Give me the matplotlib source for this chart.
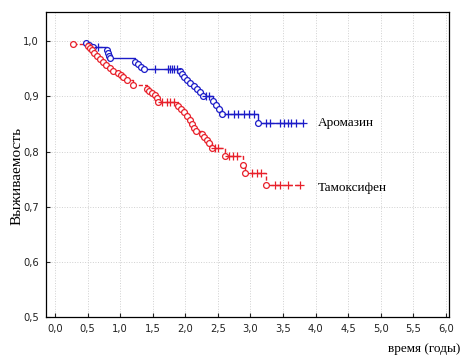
import numpy as np
import matplotlib
matplotlib.use("Agg")
import matplotlib.pyplot as plt

# Аромазин: события (время, выживаемость после события) и цензурированные
arom_t = [0.48, 0.52, 0.58, 0.80, 0.81, 0.83, 0.85, 1.23, 1.27, 1.32, 1.37,
          1.92, 1.95, 1.98, 2.03, 2.07, 2.13, 2.18, 2.22, 2.27,
          2.42, 2.47, 2.52, 2.56, 3.11]
arom_s = [0.996, 0.993, 0.989, 0.984, 0.979, 0.974, 0.969, 0.963, 0.958, 0.953, 0.949,
          0.946, 0.940, 0.935, 0.929, 0.924, 0.918, 0.913, 0.908, 0.900,
          0.891, 0.884, 0.877, 0.868, 0.851]
arom_c = [0.66, 1.53, 1.73, 1.76, 1.79, 1.82, 1.87, 2.32, 2.36,
          2.65, 2.75, 2.81, 2.90, 2.98, 3.05,
          3.24, 3.30, 3.45, 3.51, 3.57, 3.63, 3.70, 3.80]

# Тамоксифен
tam_t = [0.28, 0.51, 0.54, 0.57, 0.60, 0.64, 0.69, 0.74, 0.78, 0.84, 0.89,
         0.97, 1.01, 1.04, 1.10, 1.20, 1.41, 1.44, 1.49, 1.53, 1.56, 1.58,
         1.89, 1.93, 1.98, 2.03, 2.07, 2.10, 2.13, 2.16, 2.26, 2.29, 2.33, 2.36, 2.41,
         2.61, 2.88, 2.91, 3.24]
tam_s = [0.995, 0.991, 0.987, 0.984, 0.978, 0.973, 0.967, 0.962, 0.957, 0.951, 0.946,
         0.942, 0.938, 0.935, 0.929, 0.920, 0.913, 0.909, 0.906, 0.902, 0.897, 0.889,
         0.882, 0.877, 0.871, 0.864, 0.857, 0.850, 0.842, 0.837, 0.832, 0.826, 0.821, 0.815, 0.806,
         0.792, 0.775, 0.761, 0.739]
tam_c = [1.64, 1.72, 1.76, 1.83, 2.45, 2.50, 2.67, 2.73, 2.79,
         3.02, 3.10, 3.17, 3.37, 3.45, 3.57, 3.76]

x_ticks = np.arange(0, 6.01, 0.5)
y_ticks = np.arange(0.5, 1.01, 0.1)


def surv_at(t_ev, s_ev, times):
    idx = np.searchsorted(t_ev, times, side="right") - 1
    return np.array(s_ev)[idx]


def draw_curve(ax, t_ev, s_ev, t_c, color, ls):
    t_end = max(t_c[-1], t_ev[-1])
    ax.plot(list(t_ev) + [t_end], list(s_ev) + [s_ev[-1]], drawstyle="steps-post",
            color=color, lw=1.0, linestyle=ls)
    ax.plot(t_ev, s_ev, "o", mfc="white", mec=color, ms=4.2, mew=0.9, zorder=3)
    ax.plot(t_c, surv_at(t_ev, s_ev, t_c), "+", color=color, ms=5.5, mew=0.9, zorder=3)


fig = plt.figure(figsize=(4.62, 3.59), dpi=100)
ax = fig.add_axes([46 / 462, 42 / 359, 403 / 462, 305 / 359])

blue = "#1c1cc8"
red = "#e8202a"
draw_curve(ax, arom_t, arom_s, arom_c, blue, "-")
draw_curve(ax, tam_t, tam_s, tam_c, red, (0, (3, 1.5)))

ax.set_xlim(-0.14, 6.05)
ax.set_ylim(0.5, 1.053)
ax.set_xticks(x_ticks)
ax.set_yticks(y_ticks)
ax.set_xticklabels([f"{v:.1f}".replace(".", ",") for v in x_ticks])
ax.set_yticklabels([f"{v:.1f}".replace(".", ",") for v in y_ticks])
ax.tick_params(direction="in", length=3, width=0.8, labelsize=7.2, colors="#222222", pad=5)
ax.grid(True, color="#d0d0d0", linestyle=":", linewidth=0.7)
ax.set_axisbelow(True)
for sp in ax.spines.values():
    sp.set_linewidth(0.9)

serif = "Liberation Serif"
ax.text(4.03, 0.851, "Аромазин", family=serif, fontsize=9.5, va="center")
ax.text(4.03, 0.733, "Тамоксифен", family=serif, fontsize=9.5, va="center")
fig.text(17 / 462, 1 - 176 / 359, "Выживаемость", family=serif, fontsize=11,
         rotation=90, ha="center", va="center")
fig.text(460 / 462, 1 - 349 / 359, "время (годы)", family=serif, fontsize=9.5,
         ha="right", va="center")

fig.savefig("out.png", dpi=100)
